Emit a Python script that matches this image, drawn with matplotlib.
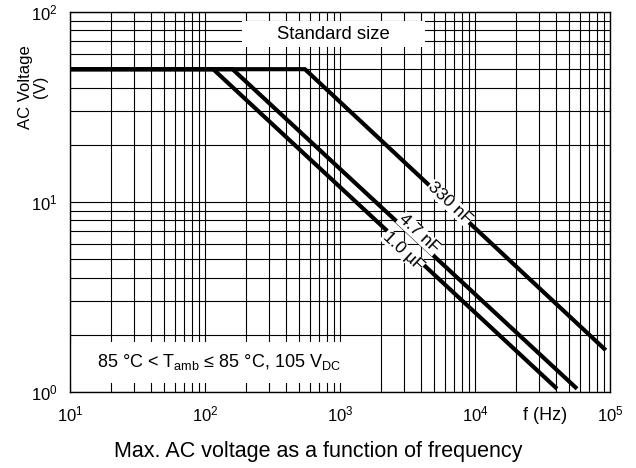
import numpy as np
import matplotlib
matplotlib.use("Agg")
import matplotlib.pyplot as plt
from matplotlib.patches import Rectangle

# DATOS
f_1u0 = [10, 115, 40500]      # Hz
v_1u0 = [50, 50, 1.04]        # V
f_4n7 = [10, 160, 57000]
v_4n7 = [50, 50, 1.04]
f_330n = [10, 550, 93000]
v_330n = [50, 50, 1.66]

series = [
    ("330 nF", f_330n, v_330n),
    ("1.0 µF", f_1u0, v_1u0),
    ("4.7 nF", f_4n7, v_4n7),
]
# frecuencia donde va cada etiqueta sobre su curva, y desplazamiento (pt)
label_f = {"1.0 µF": 2930, "4.7 nF": 3800, "330 nF": 6500}
label_off = {"1.0 µF": (0, -3.8), "4.7 nF": (0.5, 5.6), "330 nF": (0, 1)}

plt.rcParams['font.family'] = ['Liberation Sans', 'DejaVu Sans']
plt.rcParams['mathtext.fontset'] = 'custom'
plt.rcParams['mathtext.rm'] = 'Liberation Sans'
plt.rcParams['mathtext.it'] = 'Liberation Sans'
plt.rcParams['mathtext.default'] = 'regular'

fig = plt.figure(figsize=(6.36, 4.68), dpi=100)
ax = fig.add_axes([70/636, 1-392/468, 540/636, 380/468])
ax.set_xscale('log')
ax.set_yscale('log')
ax.set_xlim(10, 1e5)
ax.set_ylim(1, 100)

ax.grid(True, which='both', color='black', linewidth=0.8, zorder=1)
ax.set_axisbelow(True)
for s in ax.spines.values():
    s.set_linewidth(1.0)
ax.tick_params(which='both', length=0, labelsize=12, pad=9)

for i, (name, f, v) in enumerate(series):
    ax.plot(f, v, color='black', linewidth=3, solid_capstyle='butt', zorder=3)
    lf = label_f[name]
    lv = 10 ** np.interp(np.log10(lf), np.log10(f), np.log10(v))
    ax.annotate(name, xy=(lf, lv), xytext=label_off[name], textcoords='offset points',
                fontsize=12.5, rotation=-43, rotation_mode='anchor',
                ha='center', va='center', zorder=5 + i,
                bbox=dict(facecolor='white', edgecolor='none', pad=0.2))

# cuadro "Standard size"
ax.add_patch(Rectangle((0.318, 0.909), 0.339, 0.067, transform=ax.transAxes,
                       facecolor='white', edgecolor='none', zorder=2))
ax.text(0.487, 0.942, 'Standard size', transform=ax.transAxes, fontsize=13.3,
        ha='center', va='center', zorder=4)

# cuadro de condiciones
ax.add_patch(Rectangle((0.002, 0.024), 0.539, 0.108, transform=ax.transAxes,
                       facecolor='white', edgecolor='none', zorder=2))
ax.text(0.05, 0.079, '85 °C < T$_{amb}$ ≤ 85 °C, 105 V$_{DC}$',
        transform=ax.transAxes, fontsize=13, ha='left', va='center', zorder=4)

fig.text(33/636, 1-87/468, 'AC Voltage\n(V)', rotation=90, fontsize=12,
         ha='center', va='center', multialignment='center', linespacing=1.0)
fig.text(545/636, 1-415/468, 'f (Hz)', fontsize=13, ha='center', va='center')
fig.text(318/636, 1-452/468, 'Max. AC voltage as a function of frequency',
         fontsize=15.5, ha='center', va='center')

fig.savefig('out.png', dpi=100)
